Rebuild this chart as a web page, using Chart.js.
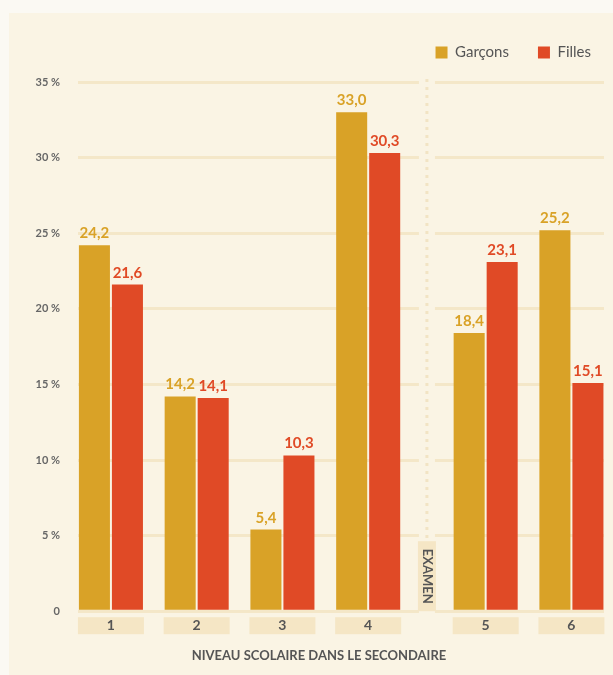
<!DOCTYPE html>
<html>
<head>
<meta charset="utf-8">
<script src="https://cdn.jsdelivr.net/npm/chart.js@4.4.1/dist/chart.umd.min.js"></script>
<style>
    html, body { margin: 0; padding: 0; background: #fbf9f3; }
    #panel { position: absolute; left: 9px; top: 13px; width: 604px; height: 662px; background: #faf4e4; }
    canvas { display: block; }
</style>
</head>
<body>
<div id="panel"><canvas id="chart" width="604" height="662"></canvas></div>
<script>
const levels = ["1", "2", "3", "4", "5", "6"];
const garcons = [24.2, 14.2, 5.4, 33.0, 18.4, 25.2];
const filles = [21.6, 14.1, 10.3, 30.3, 23.1, 15.1];
const yTicks = [0, 5, 10, 15, 20, 25, 30, 35];
const examAfter = 4; // the exam sits between level 4 and level 5
const xTitle = "NIVEAU SCOLAIRE DANS LE SECONDAIRE";

const panelColor = "#faf4e4";
const beige = "#f5e6c5";
const textGray = "#555";

// x position of each level, with an extra gap where the exam is
const levelPos = levels.map((l, i) => i + 1 + (i >= examAfter ? 0.37 : 0));

// beige boxes behind the level labels
const levelBoxes = {
    id: "levelBoxes",
    beforeDraw(chart) {
        const { ctx, chartArea: a, scales: { x } } = chart;
        ctx.save();
        ctx.fillStyle = beige;
        levelPos.forEach((v) => {
            const px = x.getPixelForValue(v);
            ctx.fillRect(px - 33, a.bottom + 6, 66, 17);
        });
        ctx.restore();
    },
    // axis title, centred a little left of the plot like the original
    afterDraw(chart) {
        const ctx = chart.ctx;
        ctx.save();
        ctx.fillStyle = textGray;
        ctx.font = "bold 13px Lato";
        ctx.textAlign = "center";
        ctx.textBaseline = "middle";
        ctx.fillText(xTitle, 310, 643);
        ctx.restore();
    }
};

// dotted divider + EXAMEN tag
const examDivider = {
    id: "examDivider",
    beforeDatasetsDraw(chart) {
        const { ctx, chartArea: a, scales: { x } } = chart;
        const cx = (x.getPixelForValue(levelPos[examAfter - 1]) + x.getPixelForValue(levelPos[examAfter])) / 2;
        ctx.save();
        ctx.fillStyle = panelColor;
        ctx.fillRect(cx - 8, a.top - 4, 16, a.bottom - a.top + 8);

        ctx.strokeStyle = "#f2e4c4";
        ctx.lineWidth = 3;
        ctx.setLineDash([3, 5]);
        ctx.beginPath();
        ctx.moveTo(cx, a.top - 3);
        ctx.lineTo(cx, a.bottom - 72);
        ctx.stroke();

        ctx.setLineDash([]);
        ctx.fillStyle = beige;
        ctx.fillRect(cx - 9, a.bottom - 70, 18, 70);

        ctx.translate(cx, a.bottom - 35);
        ctx.rotate(Math.PI / 2);
        ctx.fillStyle = textGray;
        ctx.font = "bold 13px Lato";
        ctx.textAlign = "center";
        ctx.textBaseline = "middle";
        ctx.fillText("EXAMEN", 0, 0);
        ctx.restore();
    }
};

// values above the bars, french decimal comma
const valueLabels = {
    id: "valueLabels",
    afterDatasetsDraw(chart) {
        const ctx = chart.ctx;
        ctx.save();
        ctx.font = "bold 15px Lato";
        ctx.textAlign = "center";
        ctx.textBaseline = "alphabetic";
        chart.data.datasets.forEach((ds, di) => {
            const meta = chart.getDatasetMeta(di);
            meta.data.forEach((bar, i) => {
                ctx.fillStyle = ds.backgroundColor;
                ctx.fillText(ds.data[i].y.toFixed(1).replace(".", ","), bar.x, bar.y - 7);
            });
        });
        ctx.restore();
    }
};

// legend height and right alignment
const legendTweak = {
    id: "legendTweak",
    beforeInit(chart) {
        const fit = chart.legend.fit;
        chart.legend.fit = function () {
            fit.call(this);
            this.height = 66;
        };
    },
    afterLayout(chart) {
        chart.legend.left += 16;
        chart.legend.right += 16;
    }
};

new Chart(document.getElementById("chart"), {
    type: "bar",
    data: {
        datasets: [
            {
                label: "Garçons",
                data: garcons.map((v, i) => ({ x: levelPos[i], y: v })),
                backgroundColor: "#d9a227"
            },
            {
                label: "Filles",
                data: filles.map((v, i) => ({ x: levelPos[i], y: v })),
                backgroundColor: "#e04a26"
            }
        ]
    },
    options: {
        responsive: false,
        animation: false,
        devicePixelRatio: 1,
        layout: { padding: { top: 3, right: 9, bottom: 35, left: 0 } },
        datasets: { bar: { categoryPercentage: 0.77, barPercentage: 0.94 } },
        plugins: {
            legend: {
                position: "top",
                align: "end",
                labels: {
                    boxWidth: 12,
                    boxHeight: 12,
                    padding: 29,
                    color: textGray,
                    font: { family: "Lato", size: 15 }
                }
            },
            tooltip: { enabled: false }
        },
        scales: {
            x: {
                type: "linear",
                offset: false,
                min: 0.616,
                max: 6.75,
                grid: { display: false, drawTicks: false },
                border: { display: false },
                afterBuildTicks: (s) => { s.ticks = levelPos.map((v) => ({ value: v })); },
                ticks: {
                    autoSkip: false,
                    maxRotation: 0,
                    padding: 6,
                    color: textGray,
                    font: { family: "Lato", size: 14, weight: "bold" },
                    callback: (v, i) => levels[i]
                }
            },
            y: {
                min: 0,
                max: 35,
                afterBuildTicks: (s) => { s.ticks = yTicks.map((v) => ({ value: v })); },
                afterFit: (s) => { s.width = 69; },
                grid: { color: "#f4e7c8", lineWidth: 3, drawTicks: false },
                border: { display: false },
                ticks: {
                    padding: 18,
                    color: "#666",
                    font: { family: "Lato", size: 11, weight: "bold" },
                    callback: (v) => (v === 0 ? "0" : v + " %")
                }
            }
        }
    },
    plugins: [levelBoxes, examDivider, valueLabels, legendTweak]
});
</script>
</body>
</html>
